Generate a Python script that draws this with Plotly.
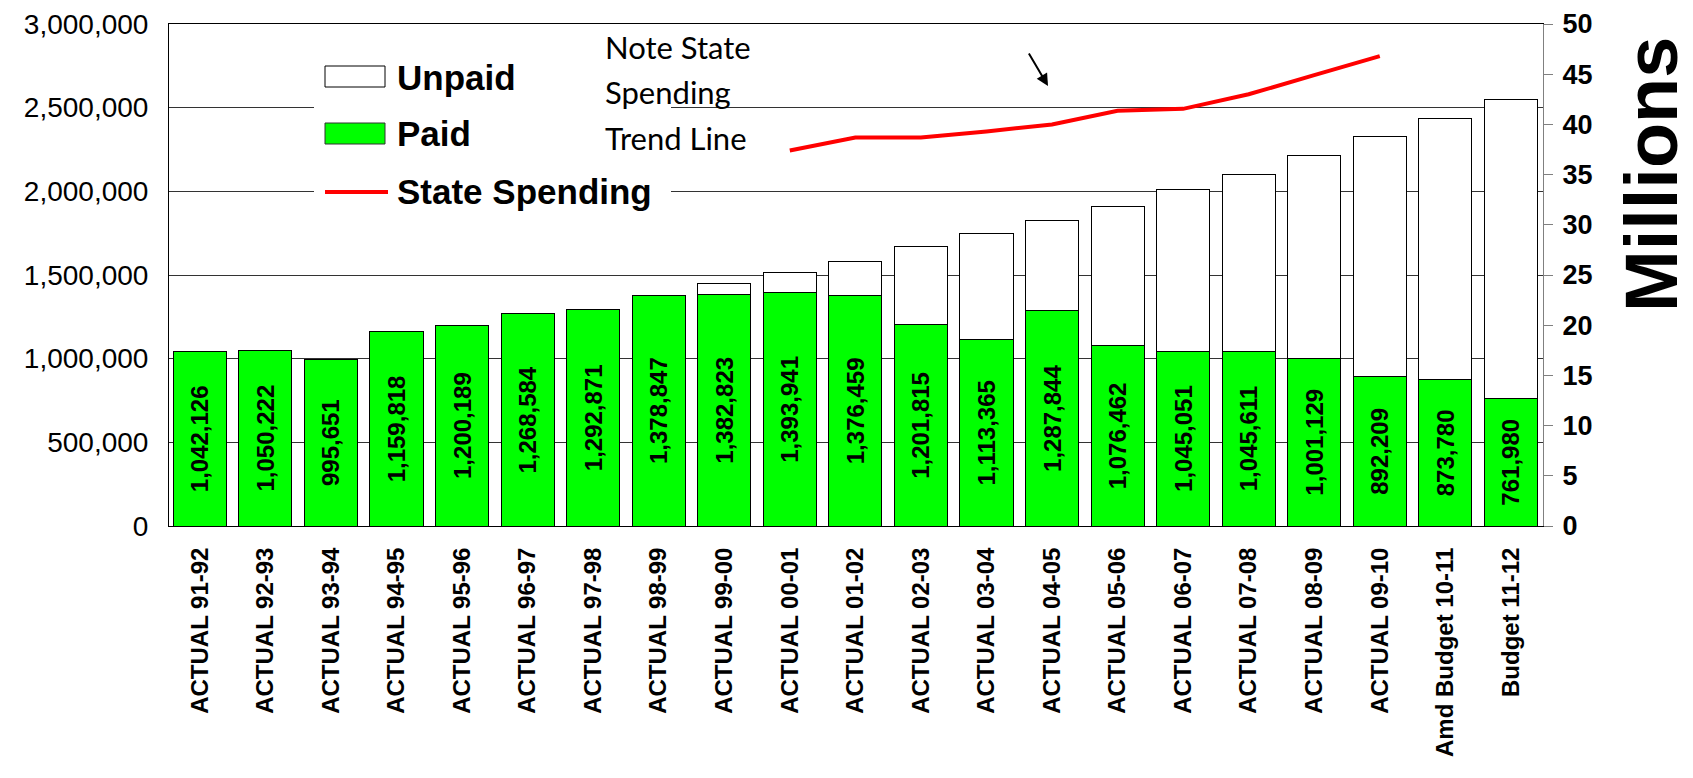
import plotly.graph_objects as go

# ---------------- data ----------------
categories = [
    "ACTUAL 91-92", "ACTUAL 92-93", "ACTUAL 93-94", "ACTUAL 94-95", "ACTUAL 95-96",
    "ACTUAL 96-97", "ACTUAL 97-98", "ACTUAL 98-99", "ACTUAL 99-00", "ACTUAL 00-01",
    "ACTUAL 01-02", "ACTUAL 02-03", "ACTUAL 03-04", "ACTUAL 04-05", "ACTUAL 05-06",
    "ACTUAL 06-07", "ACTUAL 07-08", "ACTUAL 08-09", "ACTUAL 09-10",
    "Amd Budget 10-11", "Budget 11-12",
]
paid = [
    1042126, 1050222, 995651, 1159818, 1200189, 1268584, 1292871, 1378847,
    1382823, 1393941, 1376459, 1201815, 1113365, 1287844, 1076462, 1045051,
    1045611, 1001129, 892209, 873780, 761980,
]
unpaid = [
    0, 0, 0, 0, 0, 0, 0, 0,
    67000, 124000, 206000, 466000, 637000, 537000, 834000, 963000,
    1058000, 1214000, 1433000, 1562000, 1786000,
]
# State spending, millions (right axis)
state_spending = [
    None, None, None, None, None, None, None, None, None,
    37.4, 38.7, 38.7, 39.3, 40.0, 41.35, 41.55, 43.0, 44.9, 46.8,
    None, None,
]
left_ticks = [0, 500000, 1000000, 1500000, 2000000, 2500000, 3000000]
right_ticks = [0, 5, 10, 15, 20, 25, 30, 35, 40, 45, 50]

# ---------------- layout geometry ----------------
# the page body has an 8px margin, so the figure is offset by 8px
OFF = 8
W, H = 1693 - OFF, 778 - 2 * OFF
ML, MT = 169 - OFF, 24 - OFF
PW, PH = 1374, 502
MR = W - ML - PW
MB = H - MT - PH


def px(x):
    """page x pixel -> paper fraction"""
    return (x - OFF - ML) / PW


def py(y):
    """page y pixel -> paper fraction"""
    return (MT + PH - (y - OFF)) / PH


ARIAL = "Liberation Sans, Arial, sans-serif"
NOTE_FONT = "Lato, Carlito, sans-serif"
GREEN = "#00FF00"

fig = go.Figure()
fig.add_trace(go.Bar(
    x=categories, y=paid, name="Paid",
    marker=dict(color=GREEN, line=dict(color="#000000", width=1)),
    texttemplate="%{y:,}", textposition="inside", insidetextanchor="middle",
    textangle=-90, constraintext="none",
    textfont=dict(family=ARIAL, size=24, color="#000000", weight="bold"),
    showlegend=False,
))
fig.add_trace(go.Bar(
    x=categories, y=unpaid, name="Unpaid",
    marker=dict(color="#FFFFFF", line=dict(color="#000000", width=1)),
    showlegend=False,
))
fig.add_trace(go.Scatter(
    x=categories, y=state_spending, name="State Spending", yaxis="y2",
    mode="lines", line=dict(color="#FF0000", width=4),
    connectgaps=False, showlegend=False,
))

shapes = [
    # white box behind legend (hides gridlines)
    dict(type="rect", xref="paper", yref="paper", layer="above",
         x0=px(314), x1=px(671), y0=py(208), y1=py(40),
         fillcolor="#FFFFFF", line=dict(width=0)),
    # legend swatches
    dict(type="rect", xref="paper", yref="paper", layer="above",
         x0=px(325), x1=px(385), y0=py(87), y1=py(66),
         fillcolor="#FFFFFF", line=dict(color="#000000", width=1)),
    dict(type="rect", xref="paper", yref="paper", layer="above",
         x0=px(325), x1=px(385), y0=py(144), y1=py(123),
         fillcolor=GREEN, line=dict(color="#333333", width=1)),
    dict(type="line", xref="paper", yref="paper", layer="above",
         x0=px(325), x1=px(388), y0=py(192), y1=py(192),
         line=dict(color="#FF0000", width=4)),
]

legend_font = dict(family=ARIAL, size=35, color="#000000", weight="bold")
note_font = dict(family=NOTE_FONT, size=31, color="#000000")

annotations = [
    dict(text="Unpaid", xref="paper", yref="paper", x=px(395), y=py(77),
         xanchor="left", yanchor="middle", showarrow=False, font=legend_font),
    dict(text="Paid", xref="paper", yref="paper", x=px(395), y=py(133),
         xanchor="left", yanchor="middle", showarrow=False, font=legend_font),
    dict(text="State Spending", xref="paper", yref="paper", x=px(395), y=py(191),
         xanchor="left", yanchor="middle", showarrow=False, font=legend_font),
    dict(text="Note State", xref="paper", yref="paper", x=px(603), y=py(47),
         xanchor="left", yanchor="middle", showarrow=False, font=note_font),
    dict(text="Spending", xref="paper", yref="paper", x=px(603), y=py(92),
         xanchor="left", yanchor="middle", showarrow=False, font=note_font),
    dict(text="Trend Line", xref="paper", yref="paper", x=px(603), y=py(138),
         xanchor="left", yanchor="middle", showarrow=False, font=note_font),
    # arrow
    dict(text="", xref="paper", yref="paper", x=px(1048), y=py(86),
         ax=-20, ay=-34, showarrow=True, arrowhead=2, arrowsize=1.2,
         arrowwidth=2, arrowcolor="#000000"),
    # right axis title
    dict(text="Millions", xref="paper", yref="paper", x=px(1652), y=py(175),
         xanchor="center", yanchor="middle", textangle=-90, showarrow=False,
         borderpad=0,
         font=dict(family=ARIAL, size=74, color="#000000", weight="bold")),
]

fig.update_layout(
    width=W, height=H,
    margin=dict(l=ML, r=MR, t=MT, b=MB, pad=0, autoexpand=False),
    paper_bgcolor="#FFFFFF", plot_bgcolor="#FFFFFF",
    barmode="stack", bargap=0.19,
    showlegend=False,
    xaxis=dict(
        type="category", range=[-0.47, 20.49],
        tickangle=-90, ticks="", ticklabelstandoff=11,
        tickfont=dict(family=ARIAL, size=24, color="#000000", weight="bold"),
        showline=True, linecolor="#000000", linewidth=1, mirror=True,
        showgrid=False, zeroline=False, fixedrange=True,
    ),
    yaxis=dict(
        range=[0, 3000000], tickvals=left_ticks, tickformat=",d",
        ticks="", ticklabelstandoff=14,
        tickfont=dict(family=ARIAL, size=28, color="#000000"),
        showgrid=True, gridcolor="#333333", gridwidth=1,
        showline=True, linecolor="#000000", linewidth=1,
        zeroline=False, fixedrange=True,
    ),
    yaxis2=dict(
        range=[0, 50], tickvals=right_ticks, overlaying="y", side="right",
        ticks="outside", ticklen=9, tickcolor="#808080", tickwidth=1,
        ticklabelstandoff=4,
        tickfont=dict(family=ARIAL, size=27, color="#000000", weight="bold"),
        showgrid=False, showline=True, linecolor="#808080", linewidth=1,
        zeroline=False, fixedrange=True,
    ),
    shapes=shapes,
    annotations=annotations,
)

fig.write_html("out.html")
